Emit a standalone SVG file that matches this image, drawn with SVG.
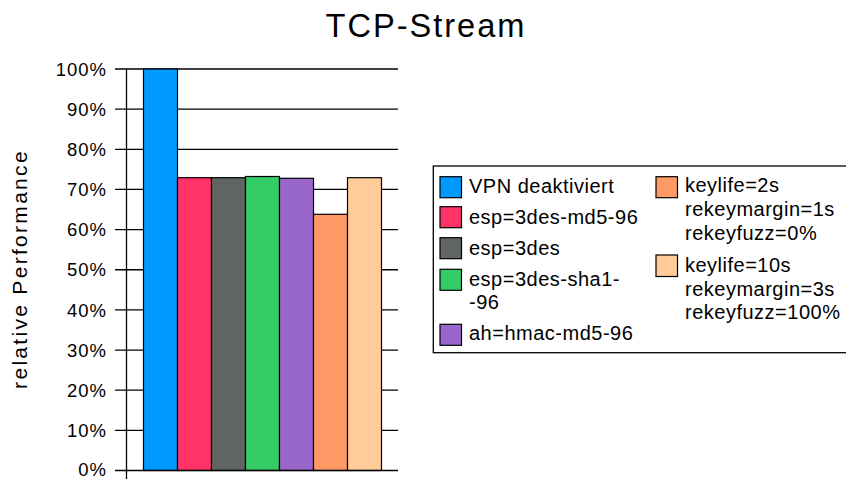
<svg xmlns="http://www.w3.org/2000/svg" width="846" height="479" viewBox="0 0 846 479">
<style>
text{font-family:"Liberation Sans",Arial,sans-serif;fill:#000}
.title{font-size:32.6px;letter-spacing:2px}
.tick{font-size:18.5px;letter-spacing:1px;text-anchor:end}
.axl{font-size:21px;letter-spacing:2.3px;text-anchor:middle}
.leg{font-size:20px;letter-spacing:0.5px}
.grid{stroke:#000;stroke-width:1.3}
.bar{stroke:#000;stroke-width:1.2}
.sw{stroke:#000;stroke-width:1.2}
</style>
<rect width="846" height="479" fill="#fff"/>
<text class="title" x="426" y="37.3" text-anchor="middle">TCP-Stream</text>
<g id="grid">
<line class="grid" x1="115" y1="69" x2="398" y2="69"/>
<line class="grid" x1="115" y1="109.15" x2="398" y2="109.15"/>
<line class="grid" x1="115" y1="149.3" x2="398" y2="149.3"/>
<line class="grid" x1="115" y1="189.45" x2="398" y2="189.45"/>
<line class="grid" x1="115" y1="229.6" x2="398" y2="229.6"/>
<line class="grid" x1="115" y1="269.75" x2="398" y2="269.75"/>
<line class="grid" x1="115" y1="309.9" x2="398" y2="309.9"/>
<line class="grid" x1="115" y1="350.05" x2="398" y2="350.05"/>
<line class="grid" x1="115" y1="390.2" x2="398" y2="390.2"/>
<line class="grid" x1="115" y1="430.35" x2="398" y2="430.35"/>
<line class="grid" x1="126.5" y1="69" x2="126.5" y2="479"/>
</g>
<g id="ticks">
<text class="tick" x="107" y="75.7">100%</text>
<text class="tick" x="107" y="115.85">90%</text>
<text class="tick" x="107" y="156">80%</text>
<text class="tick" x="107" y="196.15">70%</text>
<text class="tick" x="107" y="236.3">60%</text>
<text class="tick" x="107" y="276.45">50%</text>
<text class="tick" x="107" y="316.6">40%</text>
<text class="tick" x="107" y="356.75">30%</text>
<text class="tick" x="107" y="396.9">20%</text>
<text class="tick" x="107" y="437.05">10%</text>
<text class="tick" x="107" y="476.2">0%</text>
</g>
<text class="axl" transform="translate(26.5 269) rotate(-90)">relative Performance</text>
<g id="bars">
<rect class="bar" x="143.5" y="69" width="34" height="401.5" fill="#0099ff"/>
<rect class="bar" x="177.5" y="177.7" width="34" height="292.8" fill="#ff3366"/>
<rect class="bar" x="211.5" y="177.7" width="34" height="292.8" fill="#606561"/>
<rect class="bar" x="245.5" y="176.5" width="34" height="294" fill="#33cc66"/>
<rect class="bar" x="279.5" y="178.3" width="34" height="292.2" fill="#9966cc"/>
<rect class="bar" x="313.5" y="214.3" width="34" height="256.2" fill="#ff9966"/>
<rect class="bar" x="347.5" y="177.7" width="34" height="292.8" fill="#ffcc99"/>
</g>
<line class="grid" x1="115" y1="470.5" x2="398" y2="470.5"/>
<g id="legend">
<rect x="433.3" y="166" width="420" height="186.7" fill="#fff" stroke="#000" stroke-width="1.3"/>
<rect class="sw" x="440" y="176.7" width="21.5" height="21" fill="#0099ff"/>
<text class="leg" x="469" y="192.7">VPN deaktiviert</text>
<rect class="sw" x="440" y="206.7" width="21.5" height="21" fill="#ff3366"/>
<text class="leg" x="469" y="224.3">esp=3des-md5-96</text>
<rect class="sw" x="440" y="237.7" width="21.5" height="21" fill="#606561"/>
<text class="leg" x="469" y="255">esp=3des</text>
<rect class="sw" x="440" y="269.3" width="21.5" height="21" fill="#33cc66"/>
<text class="leg" x="469" y="286.3">esp=3des-sha1-</text>
<text class="leg" x="469" y="309.3">-96</text>
<rect class="sw" x="440" y="324.3" width="21.5" height="21" fill="#9966cc"/>
<text class="leg" x="469" y="340">ah=hmac-md5-96</text>
<rect class="sw" x="656" y="176.7" width="21.5" height="21" fill="#ff9966"/>
<text class="leg" x="685" y="192">keylife=2s</text>
<text class="leg" x="685" y="216">rekeymargin=1s</text>
<text class="leg" x="685" y="240">rekeyfuzz=0%</text>
<rect class="sw" x="656" y="255" width="21.5" height="21.5" fill="#ffcc99"/>
<text class="leg" x="685" y="271.7">keylife=10s</text>
<text class="leg" x="685" y="295.5">rekeymargin=3s</text>
<text class="leg" x="685" y="319.3">rekeyfuzz=100%</text>
</g>
</svg>
